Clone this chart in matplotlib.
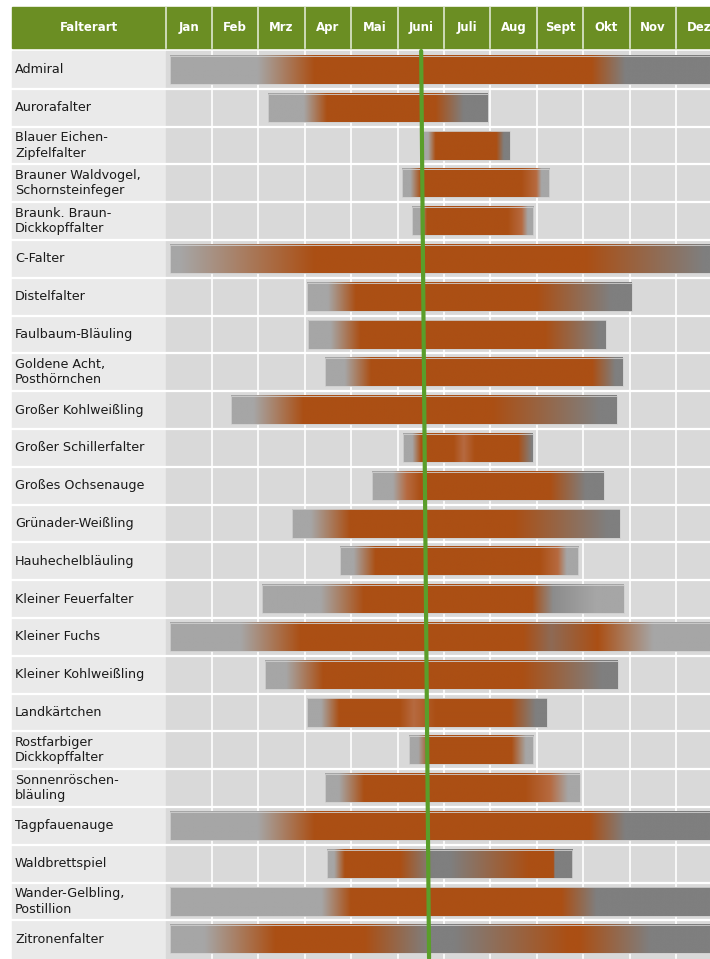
import matplotlib.pyplot as plt
import numpy as np
from matplotlib.patches import Rectangle
import matplotlib.colors as mcolors

# Flugzeiten heimischer Tagfalter
months = ['Jan', 'Feb', 'Mrz', 'Apr', 'Mai', 'Juni', 'Juli', 'Aug', 'Sept', 'Okt', 'Nov', 'Dez']

names = ['Admiral', 'Aurorafalter', 'Blauer Eichen-\nZipfelfalter',
         'Brauner Waldvogel,\nSchornsteinfeger', 'Braunk. Braun-\nDickkopffalter',
         'C-Falter', 'Distelfalter', 'Faulbaum-Bläuling', 'Goldene Acht,\nPosthörnchen',
         'Großer Kohlweißling', 'Großer Schillerfalter', 'Großes Ochsenauge',
         'Grünader-Weißling', 'Hauhechelbläuling', 'Kleiner Feuerfalter', 'Kleiner Fuchs',
         'Kleiner Kohlweißling', 'Landkärtchen', 'Rostfarbiger\nDickkopffalter',
         'Sonnenröschen-\nbläuling', 'Tagpfauenauge', 'Waldbrettspiel',
         'Wander-Gelbling,\nPostillion', 'Zitronenfalter']

# Beginn / Ende des Balkens in Monaten (0 = Anfang Januar)
starts = [0.09, 2.21, 5.55, 5.10, 5.31, 0.09, 3.05, 3.07, 3.44, 1.42, 5.12, 4.45,
          2.73, 3.76, 2.09, 0.09, 2.15, 3.05, 5.24, 3.44, 0.09, 3.48, 0.09, 0.09]
ends = [11.95, 6.95, 7.42, 8.27, 7.92, 11.95, 10.05, 9.49, 9.86, 9.73, 7.92, 9.45,
        9.79, 8.89, 9.88, 11.95, 9.75, 8.22, 7.92, 8.93, 11.95, 8.77, 11.95, 11.95]

# Farbverlauf je Falter: (Monat, Farbe)
# LG = Raupe/Puppe (hellgrau), OR = Falter fliegt, LO = schwächer, DG = Überwinterung
stages = [
    [(1.97, 'LG'), (3.2, 'OR'), (9.17, 'OR'), (9.9, 'DG')],
    [(2.98, 'LG'), (3.48, 'OR'), (5.82, 'OR'), (6.43, 'DG')],
    [(5.66, 'LG'), (5.82, 'OR'), (7.13, 'OR'), (7.29, 'DG')],
    [(5.28, 'LG'), (5.5, 'OR'), (7.66, 'OR'), (7.98, 'LO'), (8.09, 'LG')],
    [(5.48, 'LG'), (5.63, 'OR'), (7.36, 'OR'), (7.66, 'LO'), (7.79, 'LG')],
    [(0.3, 'LG'), (3.2, 'OR'), (9.05, 'OR'), (11.6, 'DG')],
    [(3.5, 'LG'), (4.1, 'OR'), (8.0, 'OR'), (9.6, 'DG')],
    [(3.55, 'LG'), (4.2, 'OR'), (8.18, 'OR'), (9.36, 'DG')],
    [(3.86, 'LG'), (4.43, 'OR'), (9.2, 'OR'), (9.7, 'DG')],
    [(1.9, 'LG'), (2.98, 'OR'), (7.06, 'OR'), (9.36, 'DG')],
    [(5.32, 'LG'), (5.51, 'OR'), (6.21, 'OR'), (6.43, 'LO'), (6.67, 'OR'), (7.6, 'OR'), (7.9, 'DG')],
    [(4.9, 'LG'), (5.2, 'LO'), (5.5, 'OR'), (8.29, 'OR'), (9.06, 'DG')],
    [(3.13, 'LG'), (3.98, 'OR'), (7.51, 'OR'), (9.52, 'DG')],
    [(4.05, 'LG'), (4.52, 'OR'), (8.05, 'OR'), (8.44, 'LO'), (8.63, 'LG')],
    [(3.35, 'LG'), (4.28, 'OR'), (7.9, 'OR'), (8.36, 'MG'), (9.28, 'LG')],
    [(1.6, 'LG'), (2.9, 'OR'), (7.7, 'OR'), (8.3, 'BR'), (9.3, 'OR'), (10.5, 'LG')],
    [(2.6, 'LG'), (3.4, 'OR'), (7.7, 'OR'), (9.4, 'DG')],
    [(3.35, 'LG'), (3.74, 'OR'), (5.05, 'OR'), (5.35, 'LO'), (5.83, 'OR'), (7.44, 'OR'), (7.98, 'DG')],
    [(5.44, 'LG'), (5.67, 'OR'), (7.44, 'OR'), (7.75, 'LG')],
    [(3.74, 'LG'), (4.28, 'OR'), (7.75, 'OR'), (8.29, 'LO'), (8.68, 'LG')],
    [(1.97, 'LG'), (3.2, 'OR'), (9.13, 'OR'), (9.9, 'DG')],
    [(3.63, 'LG'), (3.86, 'OR'), (5.05, 'OR'), (5.74, 'DG'), (6.13, 'DG'), (7.83, 'OR'),
     (8.36, 'OR'), (8.38, 'DG')],
    [(3.35, 'LG'), (3.98, 'OR'), (8.52, 'OR'), (9.28, 'DG')],
    [(0.82, 'LG'), (2.36, 'OR'), (4.28, 'OR'), (5.67, 'DG'), (6.21, 'DG'), (8.67, 'OR'),
     (8.9, 'OR'), (10.44, 'DG')],
]

# heutiges Datum (Linie leicht schräg)
today = [5.51, 5.68]

palette = {'LG': '#a6a6a6', 'DG': '#7f7f7f', 'MG': '#8c8c8c', 'OR': '#ab4f14',
           'LO': '#b66a40', 'BR': '#8e6a55'}
green = '#6b8e23'

# Pixelraster der Tabelle
px_month = 46.4
px_row = 37.8
x_zero = 165.5
y_zero = 51.0
W, H = 710, 959
label_left = (12 - x_zero) / px_month
head_top = (7 - y_zero) / px_row
head_bot = (48 - y_zero) / px_row
n = len(names)

fig = plt.figure(figsize=(W / 100, H / 100), dpi=100)
ax = fig.add_axes([0, 0, 1, 1])

# Hintergrund
ax.add_patch(Rectangle((label_left, 0), -label_left, n, color='#eaeaea', zorder=0))
ax.add_patch(Rectangle((0, 0), 12, n, color='#d9d9d9', zorder=0))
for i in range(1, 12):
    ax.plot([i, i], [0, n], color='white', lw=1.2, zorder=1)
for j in range(1, n):
    ax.plot([label_left, 12], [j, j], color='white', lw=1.6, zorder=1)

# Kopfzeile
ax.add_patch(Rectangle((label_left, head_top), 12 - label_left, head_bot - head_top,
                       color=green, zorder=1))
for i in range(0, 12):
    ax.plot([i, i], [head_top, head_bot], color='#dfe8d0', lw=1.2, zorder=2)
mid = (head_top + head_bot) / 2
ax.text(label_left / 2, mid, 'Falterart', color='white', fontweight='bold',
        fontsize=8.5, ha='center', va='center', zorder=3)
for i, m in enumerate(months):
    ax.text(i + 0.5, mid, m, color='white', fontweight='bold', fontsize=8.5,
            ha='center', va='center', zorder=3)

# Namen
for j, name in enumerate(names):
    ax.text(label_left + 3 / px_month, j + 0.5, name, fontsize=9.2, color='#1a1a1a',
            ha='left', va='center', linespacing=1.22, zorder=3)

# Balken mit Farbverlauf
bh = 0.75
for j in range(n):
    s, e = starts[j], ends[j]
    pos = [p for p, _ in stages[j]]
    rgb = np.array([mcolors.to_rgb(palette[c]) for _, c in stages[j]])
    xs = np.linspace(s, e, 600)
    img = np.stack([np.interp(xs, pos, rgb[:, k]) for k in range(3)], axis=-1)
    top = j + (1 - bh) / 2
    ax.imshow(img[None, :, :], extent=(s, e, top + bh, top), aspect='auto',
              interpolation='bilinear', zorder=3)
    ax.add_patch(Rectangle((s, top), e - s, bh, fill=False, edgecolor='#cfcfcf',
                           lw=0.6, zorder=4))

ax.plot(today, [0, n], color='#5a9e2a', lw=3.0, solid_capstyle='round', zorder=5)

ax.set_xlim(-x_zero / px_month, (W - x_zero) / px_month)
ax.set_ylim((H - y_zero) / px_row, -y_zero / px_row)
ax.axis('off')

plt.savefig('out.png', dpi=100)
